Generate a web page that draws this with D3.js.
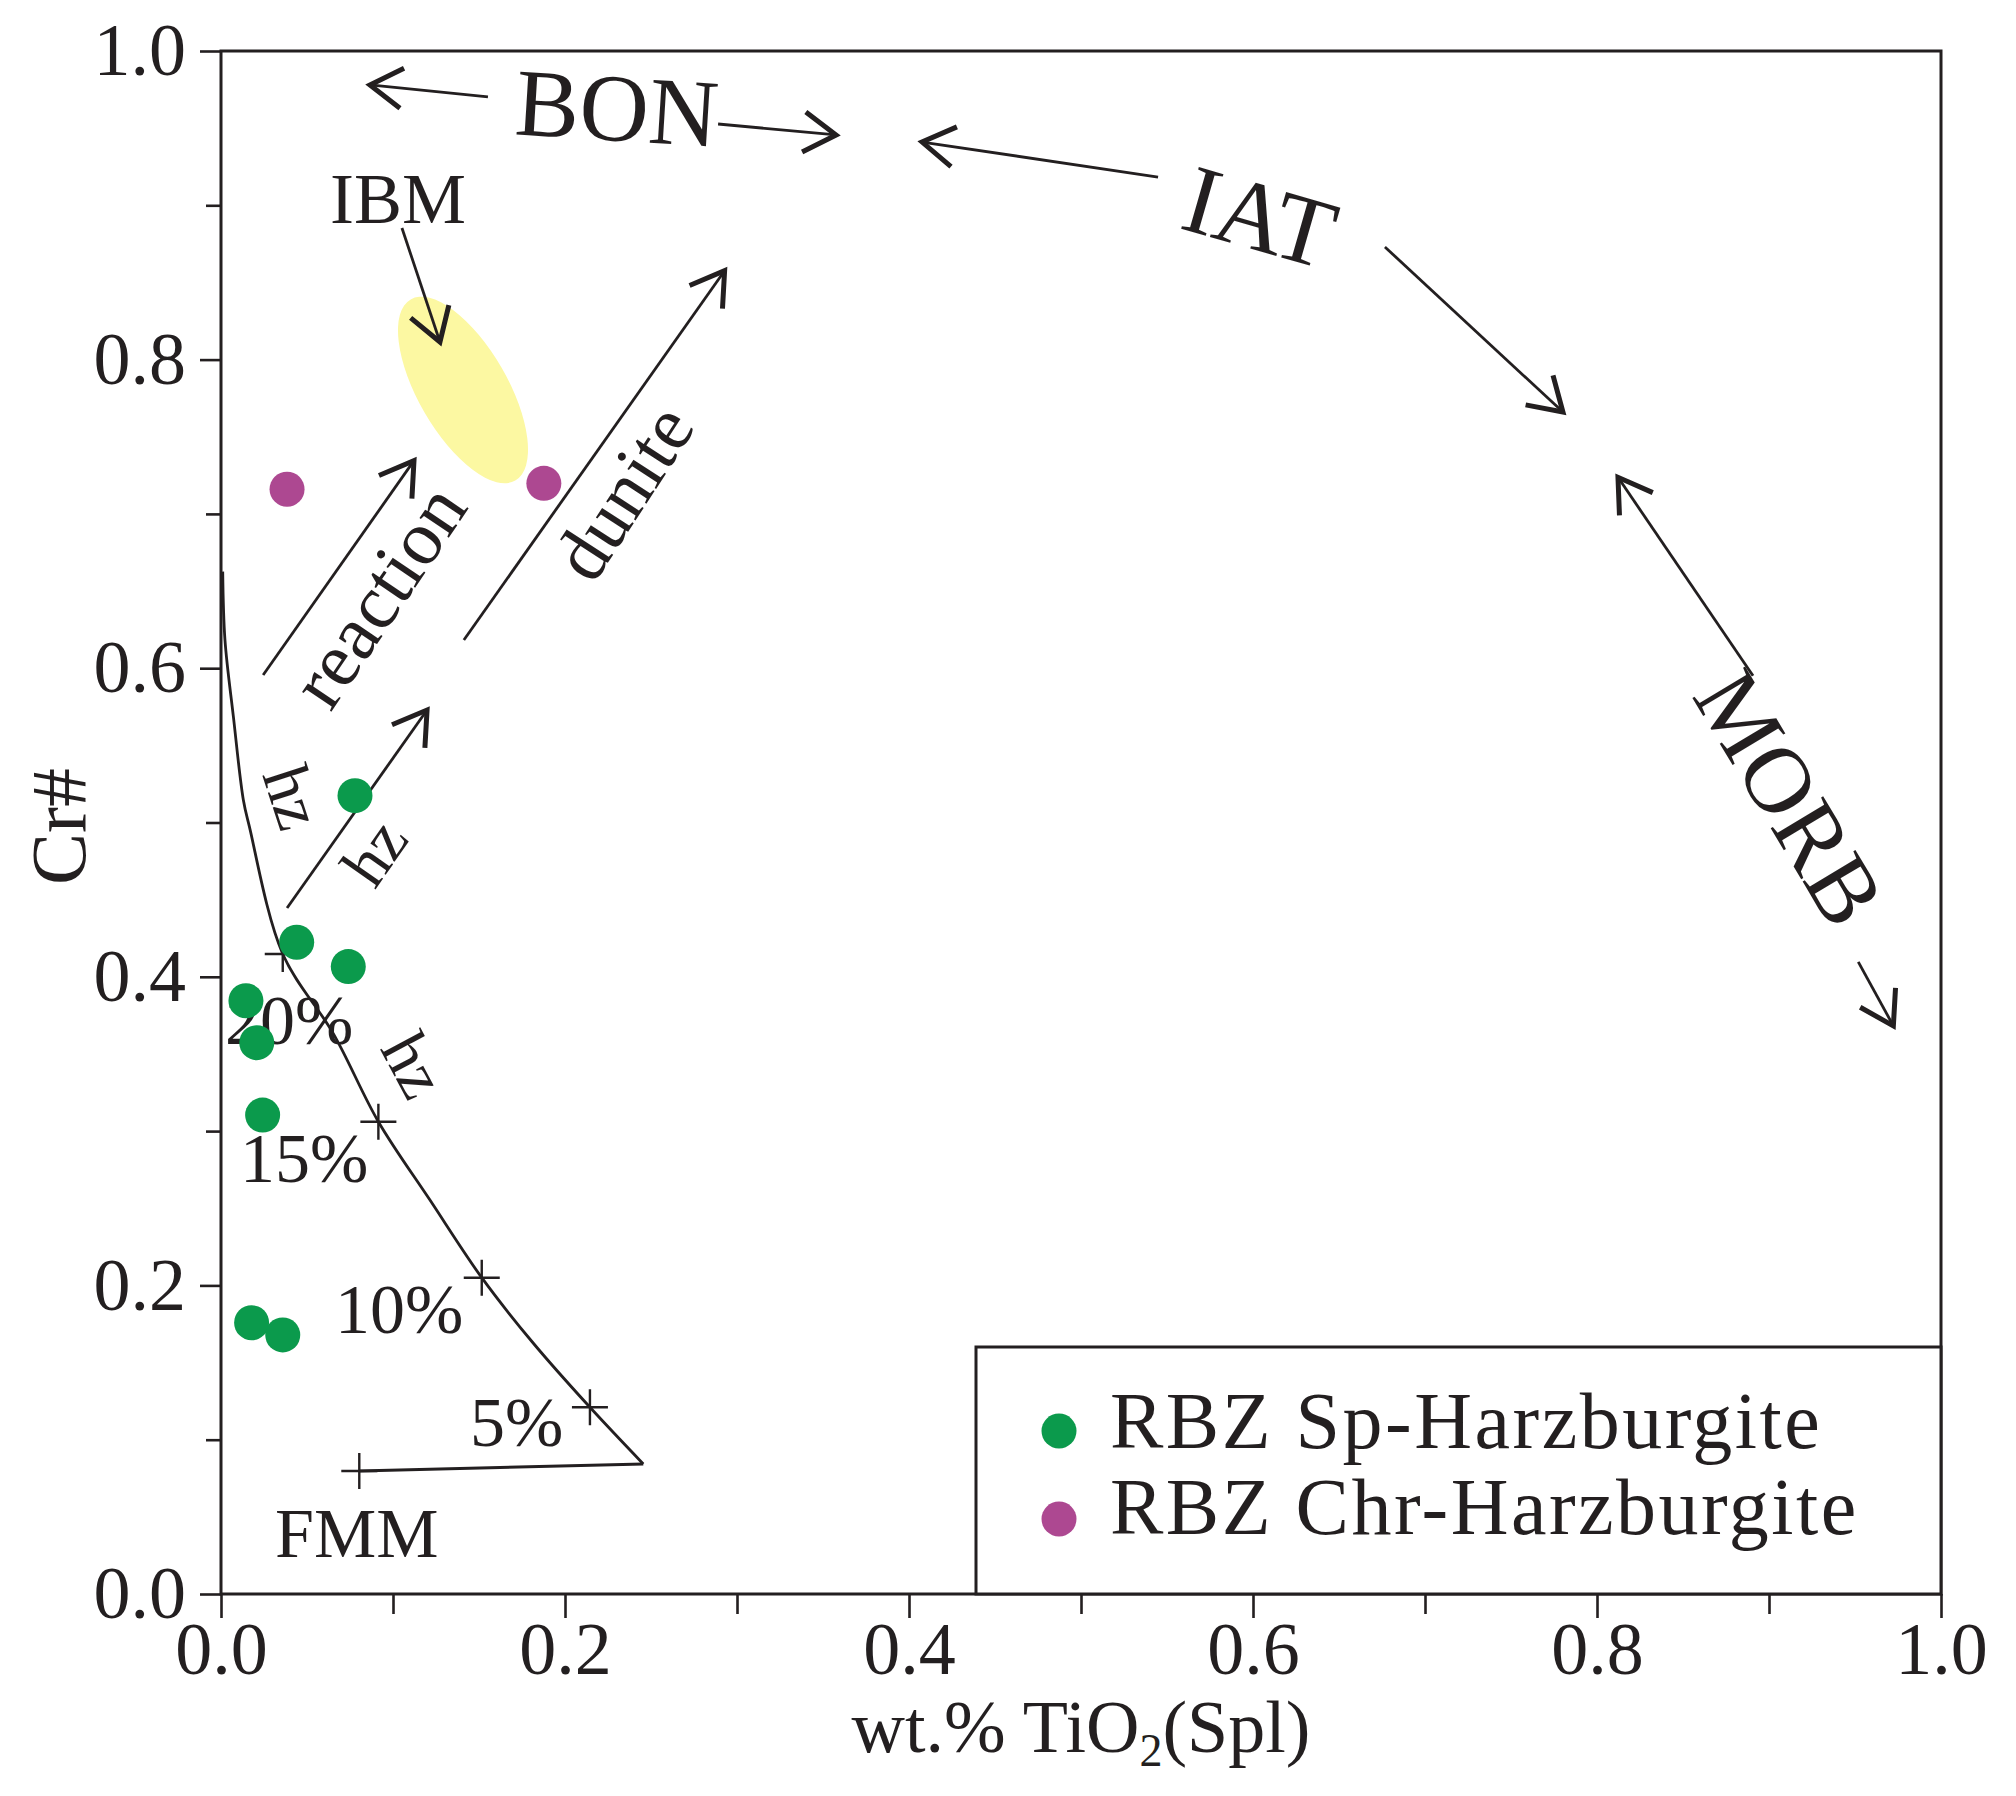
<!DOCTYPE html>
<html><head><meta charset="utf-8">
<script src="https://cdn.jsdelivr.net/npm/d3@7"></script>
<style>
body{margin:0;background:#fff}
svg text{font-family:"Liberation Serif","Times New Roman",serif;fill:#231f20}
</style>
</head><body>
<svg id="chart" width="2016" height="1796"></svg>
<script>
// ---------- data ----------
const spHarzburgite = [
  [0.0779,0.5174],[0.0440,0.4224],[0.0740,0.4066],[0.0145,0.3845],
  [0.0208,0.3573],[0.0242,0.3104],[0.0178,0.1758],[0.0359,0.1679]
];
const chrHarzburgite = [[0.0384,0.7160],[0.1877,0.7198]];
const meltCurve = [
  [0.0010,0.6626],[0.0023,0.6183],[0.0072,0.5686],[0.0130,0.5146],
  [0.0165,0.4973],[0.0359,0.4148],[0.0653,0.3632],[0.0915,0.3061],
  [0.1215,0.2553],[0.1516,0.2050],[0.1816,0.1625],[0.2145,0.1210],
  [0.2455,0.0843]
];
const fmmLine = [[0.2455,0.0843],[0.0804,0.0797]];
const meltMarks = [[0.0804,0.0797],[0.2145,0.1210],[0.1516,0.2050],[0.0915,0.3061],[0.0359,0.4148]];
const meltLabels = [
  {text:"FMM", x:0.0314, y:0.0240},
  {text:"5%",  x:0.1448, y:0.0960},
  {text:"10%", x:0.0663, y:0.1691},
  {text:"15%", x:0.0110, y:0.2670},
  {text:"20%", x:0.0023, y:0.3565}
];
const ibmField = {cx:0.1407, cy:0.7803};
const arrows = [
  {tail:[0.1552,0.9702], tip:[0.0866,0.9780]},
  {tail:[0.2890,0.9527], tip:[0.3576,0.9456]},
  {tail:[0.5448,0.9183], tip:[0.4076,0.9410]},
  {tail:[0.6767,0.8730], tip:[0.7802,0.7660]},
  {tail:[0.8907,0.5951], tip:[0.8122,0.7237]},
  {tail:[0.9519,0.4097], tip:[0.9723,0.3682]},
  {tail:[0.1052,0.8853], tip:[0.1273,0.8114]},
  {tail:[0.0245,0.5956], tip:[0.1122,0.7345]},
  {tail:[0.1412,0.6183], tip:[0.2928,0.8576]},
  {tail:[0.0384,0.4446], tip:[0.1198,0.5729]}
];
const fieldLabels = [
  {text:"BON", x:0.2302, y:0.9630, rot:3.5, size:96},
  {text:"IAT", x:0.6041, y:0.8924, rot:16, size:98},
  {text:"MORB", x:0.9120, y:0.5160, rot:59, size:94},
  {text:"reaction", x:0.0915, y:0.6470, rot:-56, size:77},
  {text:"dunite", x:0.2337, y:0.7142, rot:-57, size:76},
  {text:"hz", x:0.0419, y:0.5165, rot:72, size:66},
  {text:"hz", x:0.0890, y:0.4809, rot:-55, size:66},
  {text:"hz", x:0.1122, y:0.3428, rot:62, size:66}
];
const ibmLabel = {text:"IBM", x:0.1029, y:0.8886};
const xMajor = [0,0.2,0.4,0.6,0.8,1.0];
const xMinor = [0.1,0.3,0.5,0.7,0.9];
const yMajor = [0,0.2,0.4,0.6,0.8,1.0];
const yMinor = [0.1,0.3,0.5,0.7,0.9];
const legendItems = [
  {label:"RBZ Sp-Harzburgite", color:"#0b9a4c"},
  {label:"RBZ Chr-Harzburgite", color:"#ad4891"}
];

// ---------- layout ----------
const ink = "#231f20";
const M = {left:221, right:1941, top:51, bottom:1594};
const svg = d3.select("#chart");
const x = d3.scaleLinear().domain([0,1]).range([M.left, M.right]);
const y = d3.scaleLinear().domain([0,1]).range([M.bottom, M.top]);

// axes
const gx = svg.append("g").attr("transform",`translate(0,${M.bottom})`);
gx.call(d3.axisBottom(x).tickValues(xMajor).tickFormat(d3.format(".1f")).tickSize(24).tickPadding(3));
gx.append("g").call(d3.axisBottom(x).tickValues(xMinor).tickFormat("").tickSize(20));
const gy = svg.append("g").attr("transform",`translate(${M.left},0)`);
gy.call(d3.axisLeft(y).tickValues(yMajor).tickFormat(d3.format(".1f")).tickSize(21).tickPadding(14));
gy.append("g").call(d3.axisLeft(y).tickValues(yMinor).tickFormat("").tickSize(15));
svg.selectAll(".domain").remove();
svg.selectAll(".tick line").attr("stroke",ink).attr("stroke-width",2.6);
svg.selectAll(".tick text").attr("font-size",74).attr("font-family","Liberation Serif").attr("fill",ink);
gx.selectAll(".tick text").attr("dy","0.71em");

// frame
svg.append("rect").attr("x",M.left).attr("y",M.top)
  .attr("width",M.right-M.left).attr("height",M.bottom-M.top)
  .attr("fill","none").attr("stroke",ink).attr("stroke-width",3);

// axis titles
const xt = svg.append("text").attr("x",(M.left+M.right)/2).attr("y",1752)
  .attr("text-anchor","middle").attr("font-size",74);
xt.append("tspan").text("wt.% TiO");
xt.append("tspan").text("2").attr("font-size",46).attr("dy",14);
xt.append("tspan").text("(Spl)").attr("dy",-14);
svg.append("text").attr("transform",`translate(58,${(M.top+M.bottom)/2+4}) rotate(-90)`)
  .attr("text-anchor","middle").attr("dominant-baseline","central")
  .attr("font-size",78).text("Cr#");

// IBM field
svg.append("ellipse")
  .attr("transform",`translate(${x(ibmField.cx)},${y(ibmField.cy)}) rotate(60)`)
  .attr("rx",104.6).attr("ry",44.6).attr("fill","#fcf8a2");

// melting curve
svg.append("path").datum(meltCurve)
  .attr("d",d3.line().x(d=>x(d[0])).y(d=>y(d[1])).curve(d3.curveCatmullRom))
  .attr("fill","none").attr("stroke",ink).attr("stroke-width",2.8);
svg.append("path").datum(fmmLine)
  .attr("d",d3.line().x(d=>x(d[0])).y(d=>y(d[1])))
  .attr("fill","none").attr("stroke",ink).attr("stroke-width",3);
svg.append("g").selectAll("path").data(meltMarks).join("path")
  .attr("d",d=>{const cx=x(d[0]),cy=y(d[1]),h=18;return `M${cx-h},${cy}H${cx+h}M${cx},${cy-h}V${cy+h}`;})
  .attr("stroke",ink).attr("stroke-width",2.4).attr("fill","none");
svg.append("g").selectAll("text").data(meltLabels).join("text")
  .attr("x",d=>x(d.x)).attr("y",d=>y(d.y)).attr("font-size",70).text(d=>d.text);

// arrows
const ga = svg.append("g");
arrows.forEach(a=>{
  const x1=x(a.tail[0]), y1=y(a.tail[1]), x2=x(a.tip[0]), y2=y(a.tip[1]);
  ga.append("line").attr("x1",x1).attr("y1",y1).attr("x2",x2).attr("y2",y2)
    .attr("stroke",ink).attr("stroke-width",2.8);
  const ang=Math.atan2(y1-y2,x1-x2), L=38, h=32*Math.PI/180;
  const p1=[x2+L*Math.cos(ang+h), y2+L*Math.sin(ang+h)];
  const p2=[x2+L*Math.cos(ang-h), y2+L*Math.sin(ang-h)];
  ga.append("path").attr("d",`M${p1[0]},${p1[1]}L${x2},${y2}L${p2[0]},${p2[1]}`)
    .attr("fill","none").attr("stroke",ink).attr("stroke-width",5).attr("stroke-linejoin","miter");
});

// field labels
svg.append("g").selectAll("text").data(fieldLabels).join("text")
  .attr("transform",d=>`translate(${x(d.x)},${y(d.y)}) rotate(${d.rot})`)
  .attr("text-anchor","middle").attr("dominant-baseline","central")
  .attr("font-size",d=>d.size).text(d=>d.text);
svg.append("text").attr("x",x(ibmLabel.x)).attr("y",y(ibmLabel.y))
  .attr("text-anchor","middle").attr("font-size",72).text(ibmLabel.text);

// points
svg.append("g").selectAll("circle").data(spHarzburgite).join("circle")
  .attr("cx",d=>x(d[0])).attr("cy",d=>y(d[1])).attr("r",17.5).attr("fill",legendItems[0].color);
svg.append("g").selectAll("circle").data(chrHarzburgite).join("circle")
  .attr("cx",d=>x(d[0])).attr("cy",d=>y(d[1])).attr("r",17.5).attr("fill",legendItems[1].color);

// legend
const lg = svg.append("g");
lg.append("rect").attr("x",976).attr("y",1347).attr("width",M.right-976).attr("height",M.bottom-1347)
  .attr("fill","#fff").attr("stroke",ink).attr("stroke-width",3);
legendItems.forEach((it,i)=>{
  const cy = 1431 + i*88;
  lg.append("circle").attr("cx",1059).attr("cy",cy).attr("r",17.5).attr("fill",it.color);
  lg.append("text").attr("x",1110).attr("y",cy+17+i*-2).attr("font-size",80)
    .attr("letter-spacing",2.5).text(it.label);
});
</script>
</body></html>
